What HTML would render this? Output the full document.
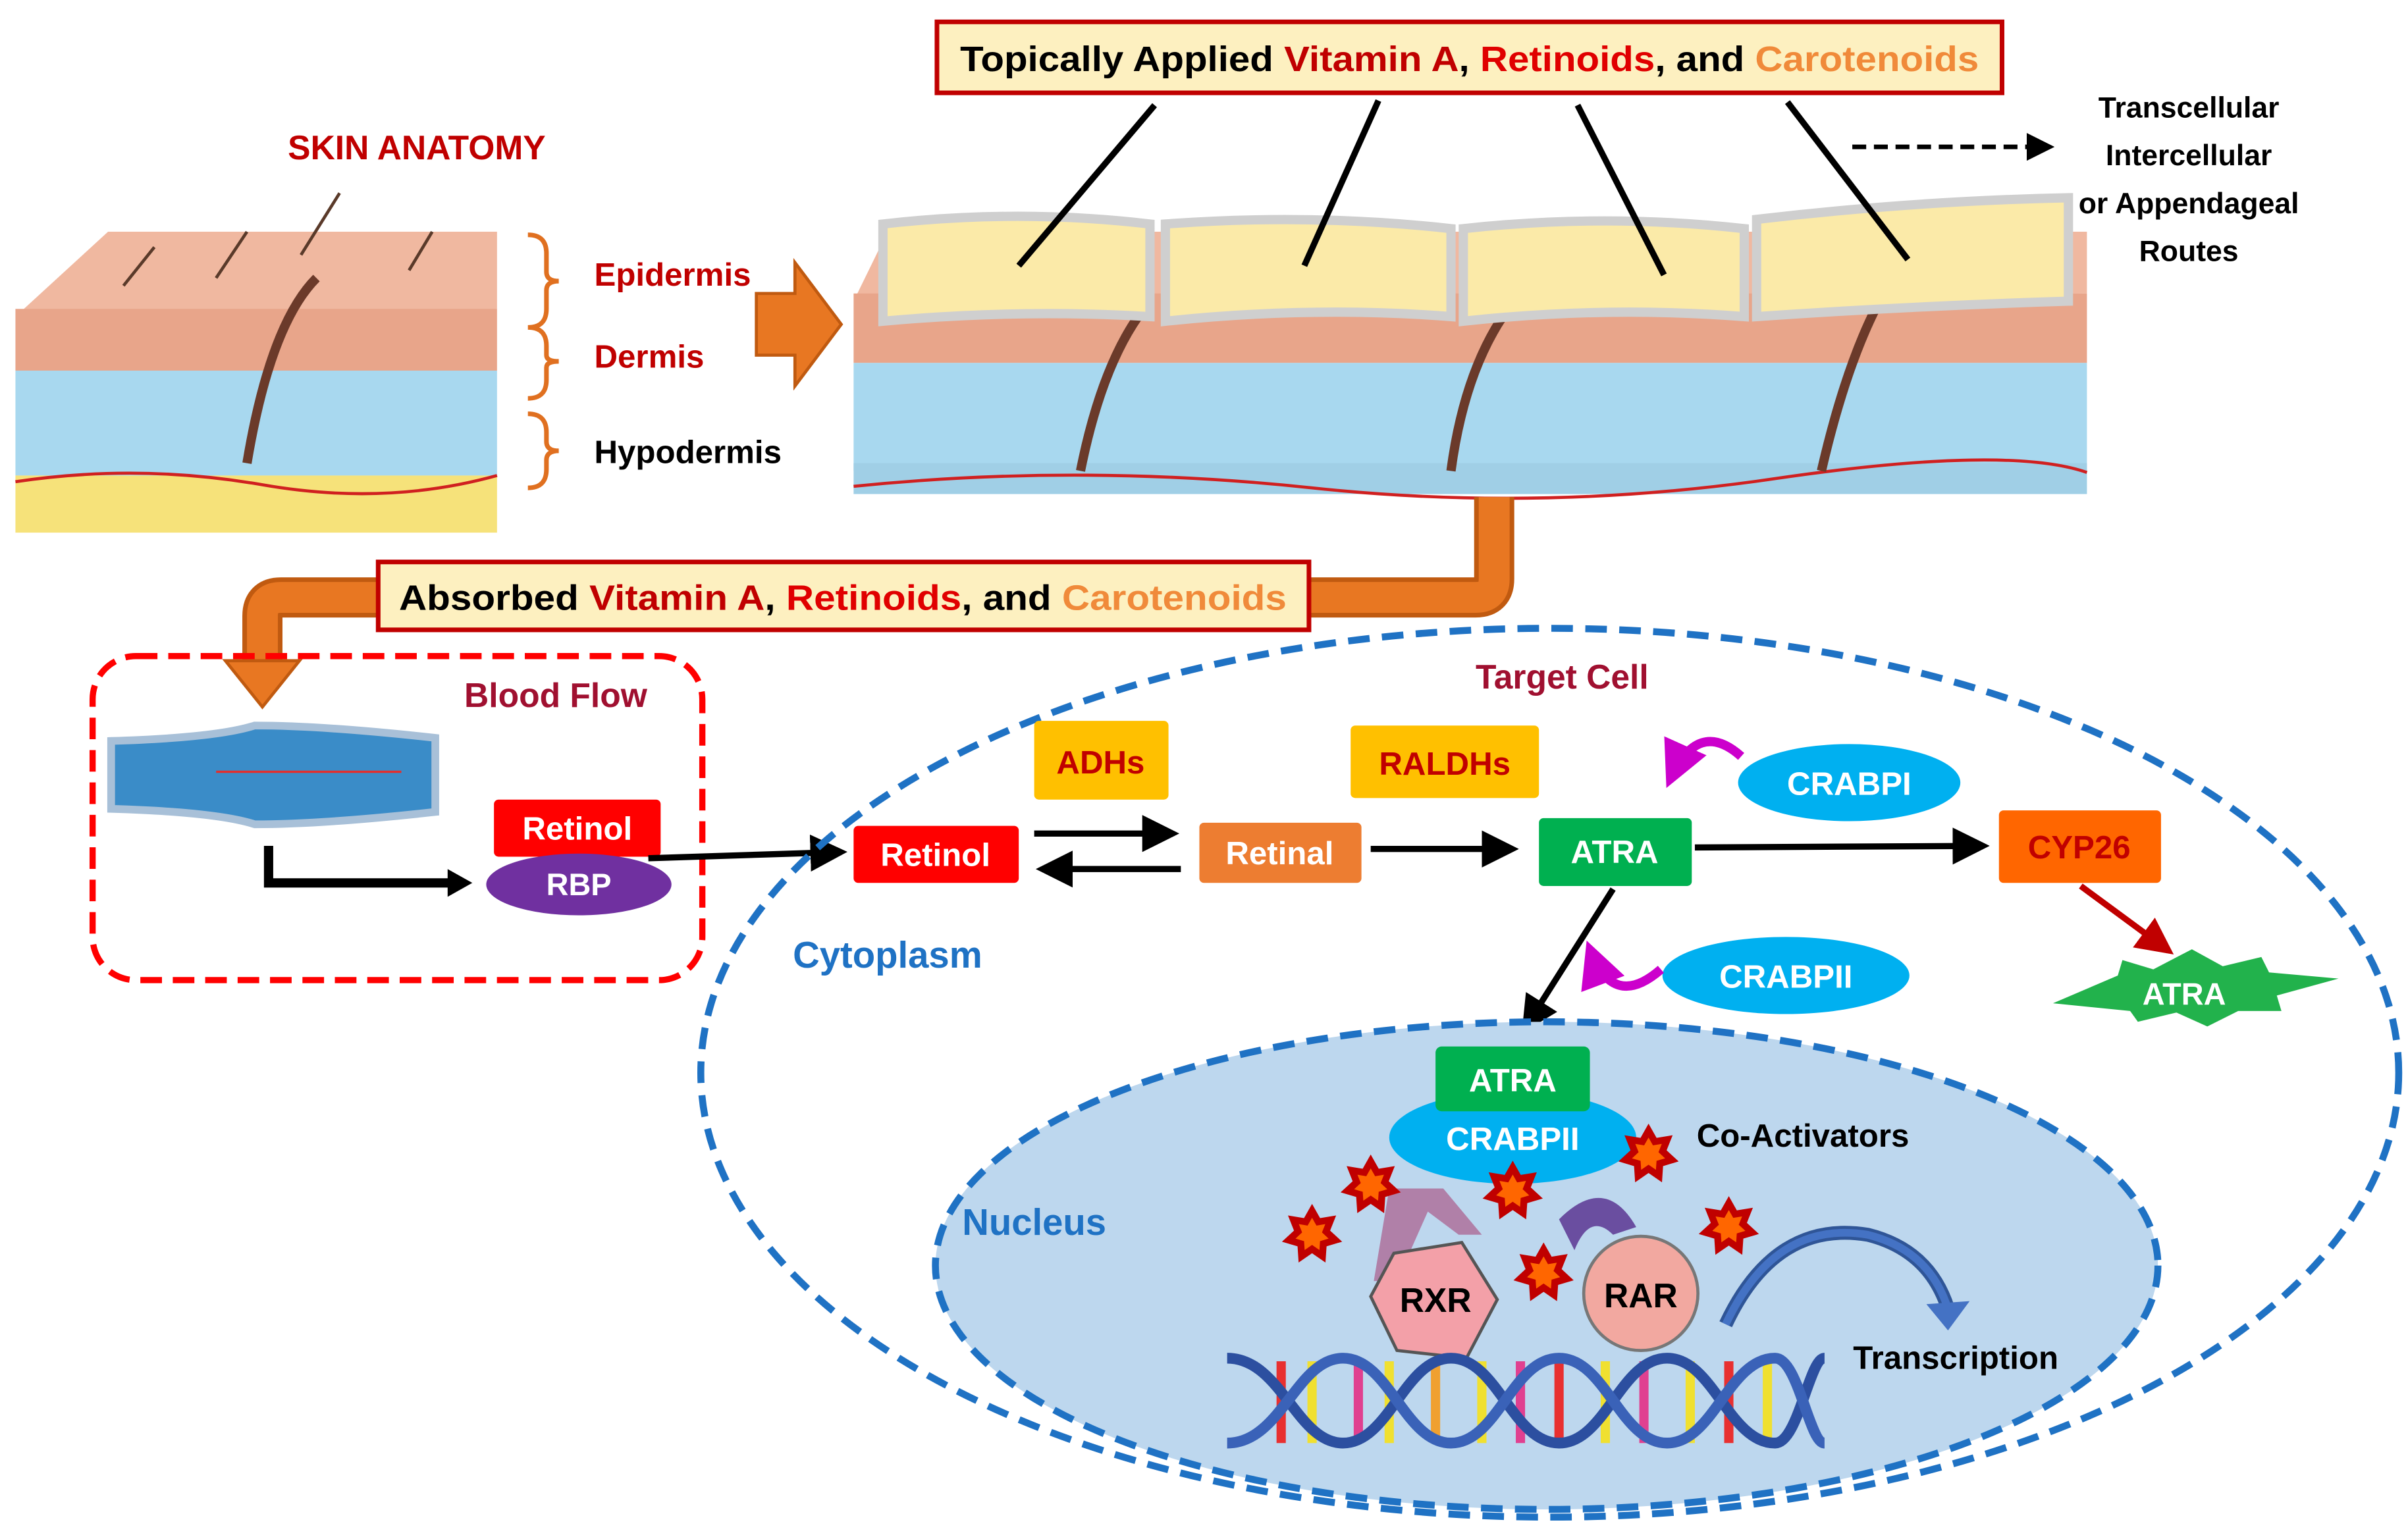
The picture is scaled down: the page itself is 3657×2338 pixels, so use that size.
<!DOCTYPE html>
<html><head><meta charset="utf-8"><style>
html,body{margin:0;padding:0;background:#fff}
svg{display:block}
text{font-family:"Liberation Sans",sans-serif;font-weight:bold}
</style></head><body>
<svg width="3657" height="2338" viewBox="0 0 1560 997" xmlns="http://www.w3.org/2000/svg">
<defs>
<marker id="ah" markerWidth="6" markerHeight="6" refX="5" refY="3" orient="auto" markerUnits="strokeWidth"><path d="M0,0 L6,3 L0,6 Z" fill="#000"/></marker>
<marker id="ahr" markerWidth="6" markerHeight="6" refX="5" refY="3" orient="auto" markerUnits="strokeWidth"><path d="M0,0 L6,3 L0,6 Z" fill="#c00000"/></marker>
<marker id="ahm" markerWidth="5" markerHeight="5" refX="4" refY="2.5" orient="auto" markerUnits="strokeWidth"><path d="M0,0 L5,2.5 L0,5 Z" fill="#cc00cc"/></marker>
<g id="star"><polygon fill="#c00000" points="0,-20 5.2,-10.8 15.6,-12.5 11.7,-2.7 19.5,4.5 9.4,7.5 8.7,18 0,12 -8.7,18 -9.4,7.5 -19.5,4.5 -11.7,-2.7 -15.6,-12.5 -5.2,-10.8"/><polygon fill="#ff6600" transform="scale(0.55)" points="0,-20 5.2,-10.8 15.6,-12.5 11.7,-2.7 19.5,4.5 9.4,7.5 8.7,18 0,12 -8.7,18 -9.4,7.5 -19.5,4.5 -11.7,-2.7 -15.6,-12.5 -5.2,-10.8"/></g>
</defs>

<!-- Title box -->
<rect x="607" y="14" width="690" height="46" fill="#fdf0c0" stroke="#c00000" stroke-width="3"/>
<text x="952" y="46" font-size="23" text-anchor="middle" fill="#000" textLength="660" lengthAdjust="spacingAndGlyphs">Topically Applied <tspan fill="#c00000">Vitamin A</tspan>, <tspan fill="#e00000">Retinoids</tspan>, and <tspan fill="#f08a3a">Carotenoids</tspan></text>

<text x="270" y="103" font-size="22" text-anchor="middle" fill="#c00000">SKIN ANATOMY</text>

<!-- Left skin block -->
<polygon points="10,205 70,150 322,150 322,200 262,205" fill="#f0b8a0"/>
<rect x="10" y="200" width="312" height="40" fill="#e8a58a"/>
<rect x="10" y="240" width="312" height="68" fill="#a8d8ef"/>
<rect x="10" y="308" width="312" height="37" fill="#f6e27a"/>
<path d="M10,312 Q90,300 170,314 T322,308" stroke="#d02020" stroke-width="2" fill="none"/>
<path d="M160,300 Q175,210 205,180" stroke="#6b3a2a" stroke-width="6" fill="none"/>
<path d="M100,160 l-20,25 M160,150 l-20,30 M220,125 l-25,40 M280,150 l-15,25" stroke="#5a3a2a" stroke-width="2"/>
<!-- braces -->
<path d="M342,152 q12,0 12,12 v12 q0,6 8,6 q-8,0 -8,6 v12 q0,12 -12,12 M342,212 q12,0 12,12 v6 q0,4 8,4 q-8,0 -8,4 v8 q0,12 -12,12 M342,268 q12,0 12,12 v6 q0,6 8,6 q-8,0 -8,6 v6 q0,12 -12,12" stroke="#e07020" stroke-width="3" fill="none"/>
<text x="385" y="185" font-size="21" fill="#c00000">Epidermis</text>
<text x="385" y="238" font-size="21" fill="#c00000">Dermis</text>
<text x="385" y="300" font-size="21" fill="#000">Hypodermis</text>

<!-- orange arrow -->
<polygon points="490,190 515,190 515,170 545,210 515,250 515,230 490,230" fill="#e87722" stroke="#c05a10" stroke-width="2"/>

<!-- Right skin strip -->
<polygon points="553,195 575,150 1352,150 1352,190" fill="#f0b8a0"/>
<rect x="553" y="190" width="799" height="45" fill="#e8a58a"/>
<rect x="553" y="235" width="799" height="70" fill="#a8d8ef"/>
<rect x="553" y="300" width="799" height="20" fill="#a0cfe6"/>
<path d="M553,315 Q700,300 850,316 T1150,310 T1352,306" stroke="#d02020" stroke-width="2" fill="none"/>
<path d="M700,305 Q715,230 745,195 M940,305 Q950,230 985,190 M1180,305 Q1195,240 1215,200" stroke="#6b3a2a" stroke-width="6" fill="none"/>
<g fill="#fbeaa8" stroke="#cfcfcf" stroke-width="6">
<path d="M572,145 Q660,135 745,145 L745,205 Q660,200 572,208 Z"/>
<path d="M755,145 Q850,138 940,148 L940,205 Q850,198 755,208 Z"/>
<path d="M948,148 Q1040,138 1130,148 L1130,205 Q1040,198 948,208 Z"/>
<path d="M1138,142 Q1240,130 1340,128 L1340,195 Q1240,198 1138,205 Z"/>
</g>
<g stroke="#000" stroke-width="4">
<line x1="748" y1="68" x2="660" y2="172"/>
<line x1="893" y1="65" x2="845" y2="172"/>
<line x1="1022" y1="68" x2="1078" y2="178"/>
<line x1="1158" y1="66" x2="1236" y2="168"/>
</g>
<line x1="1200" y1="95" x2="1328" y2="95" stroke="#000" stroke-width="3" stroke-dasharray="9,5" marker-end="url(#ah)"/>
<g font-size="19" text-anchor="middle" fill="#000">
<text x="1418" y="76">Transcellular</text>
<text x="1418" y="107">Intercellular</text>
<text x="1418" y="138">or Appendageal</text>
<text x="1418" y="169">Routes</text>
</g>

<!-- orange pipe -->
<path d="M968,322 V375 Q968,387 956,387 H182 Q170,387 170,399 V430" stroke="#c05a10" stroke-width="26" fill="none"/>
<path d="M968,322 V375 Q968,387 956,387 H182 Q170,387 170,399 V430" stroke="#e87722" stroke-width="20" fill="none"/>
<polygon points="146,428 194,428 170,458" fill="#e87722" stroke="#c05a10" stroke-width="2"/>
<rect x="245" y="364" width="603" height="44" fill="#fdf0c0" stroke="#c00000" stroke-width="3"/>
<text x="546" y="395" font-size="23" text-anchor="middle" fill="#000" textLength="575" lengthAdjust="spacingAndGlyphs">Absorbed <tspan fill="#c00000">Vitamin A</tspan>, <tspan fill="#e00000">Retinoids</tspan>, and <tspan fill="#f08a3a">Carotenoids</tspan></text>

<!-- Blood flow -->
<rect x="60" y="425" width="395" height="210" rx="28" fill="none" stroke="#ff0000" stroke-width="4" stroke-dasharray="14,7"/>
<text x="360" y="458" font-size="22" text-anchor="middle" fill="#a01030">Blood Flow</text>
<path d="M72,480 Q140,478 165,470 Q210,470 282,478 V526 Q210,534 165,534 Q140,526 72,524 Z" fill="#3a8cc8" stroke="#a8c0d8" stroke-width="5"/>
<path d="M140,500 H260" stroke="#e03030" stroke-width="1.5"/>
<path d="M174,548 V572 H292" stroke="#000" stroke-width="6" fill="none"/>
<polygon points="290,563 306,572 290,581" fill="#000"/>
<rect x="320" y="518" width="108" height="37" rx="3" fill="#ff0000"/>
<text x="374" y="544" font-size="21" text-anchor="middle" fill="#fff">Retinol</text>
<ellipse cx="375" cy="573" rx="60" ry="20" fill="#7030a0"/>
<text x="375" y="580" font-size="20" text-anchor="middle" fill="#fff">RBP</text>
<line x1="420" y1="556" x2="545" y2="552" stroke="#000" stroke-width="4" marker-end="url(#ah)"/>

<!-- Target cell -->
<ellipse cx="1004" cy="695" rx="550" ry="288" fill="none" stroke="#1f72c4" stroke-width="4.5" stroke-dasharray="14,8"/>
<text x="1012" y="446" font-size="22" text-anchor="middle" fill="#a01030">Target Cell</text>
<rect x="670" y="467" width="87" height="51" rx="3" fill="#ffc000"/>
<text x="713" y="501" font-size="21" text-anchor="middle" fill="#c00000">ADHs</text>
<rect x="875" y="470" width="122" height="47" rx="3" fill="#ffc000"/>
<text x="936" y="502" font-size="21" text-anchor="middle" fill="#c00000">RALDHs</text>
<rect x="553" y="535" width="107" height="37" rx="3" fill="#ff0000"/>
<text x="606" y="561" font-size="21" text-anchor="middle" fill="#fff">Retinol</text>
<rect x="777" y="533" width="105" height="39" rx="3" fill="#ed7d31"/>
<text x="829" y="560" font-size="21" text-anchor="middle" fill="#fff">Retinal</text>
<rect x="997" y="530" width="99" height="44" rx="3" fill="#00b050"/>
<text x="1046" y="559" font-size="21" text-anchor="middle" fill="#fff">ATRA</text>
<rect x="1295" y="525" width="105" height="47" rx="3" fill="#ff6600"/>
<text x="1347" y="556" font-size="21" text-anchor="middle" fill="#c00000">CYP26</text>
<g stroke="#000" stroke-width="4">
<line x1="670" y1="540" x2="760" y2="540" marker-end="url(#ah)"/>
<line x1="765" y1="563" x2="675" y2="563" marker-end="url(#ah)"/>
<line x1="888" y1="550" x2="980" y2="550" marker-end="url(#ah)"/>
<line x1="1098" y1="549" x2="1285" y2="548" marker-end="url(#ah)"/>
<line x1="1045" y1="576" x2="988" y2="666" marker-end="url(#ah)"/>
</g>
<line x1="1348" y1="574" x2="1405" y2="616" stroke="#c00000" stroke-width="4" marker-end="url(#ahr)"/>
<ellipse cx="1198" cy="507" rx="72" ry="25" fill="#00b0f0"/>
<text x="1198" y="515" font-size="21" text-anchor="middle" fill="#fff">CRABPI</text>
<path d="M1128,490 Q1100,465 1082,505" stroke="#cc00cc" stroke-width="6" fill="none" marker-end="url(#ahm)"/>
<ellipse cx="1157" cy="632" rx="80" ry="25" fill="#00b0f0"/>
<text x="1157" y="640" font-size="21" text-anchor="middle" fill="#fff">CRABPII</text>
<path d="M1076,628 Q1045,655 1030,615" stroke="#cc00cc" stroke-width="6" fill="none" marker-end="url(#ahm)"/>
<polygon points="1330,650 1372,632 1375,622 1395,628 1420,615 1440,626 1465,620 1470,630 1515,634 1475,645 1478,655 1450,655 1430,665 1410,656 1385,662 1380,655" fill="#22b24c"/>
<text x="1415" y="651" font-size="20" text-anchor="middle" fill="#fff">ATRA</text>
<text x="575" y="627" font-size="24" text-anchor="middle" fill="#1f72c4">Cytoplasm</text>

<!-- Nucleus -->
<ellipse cx="1002" cy="820" rx="396" ry="158" fill="#bdd7ee" stroke="#1f72c4" stroke-width="4.5" stroke-dasharray="14,8"/>
<text x="670" y="800" font-size="24" text-anchor="middle" fill="#1f72c4">Nucleus</text>
<path d="M900,770 L935,770 L960,800 L945,800 L925,785 L905,830 L890,830 Z" fill="#b080a8"/>
<path d="M1010,790 Q1040,760 1060,795 L1045,800 Q1030,785 1020,810 Z" fill="#6a4ea0"/>
<ellipse cx="980" cy="737" rx="80" ry="30" fill="#00b0f0"/>
<rect x="930" y="678" width="100" height="42" rx="4" fill="#00b050"/>
<text x="980" y="707" font-size="21" text-anchor="middle" fill="#fff">ATRA</text>
<text x="980" y="745" font-size="21" text-anchor="middle" fill="#fff">CRABPII</text>
<text x="1168" y="743" font-size="21" text-anchor="middle" fill="#000">Co-Activators</text>
<polygon points="903,812 947,805 970,842 950,880 905,875 888,840" fill="#f3a0a8" stroke="#555" stroke-width="2"/>
<text x="930" y="850" font-size="22" text-anchor="middle" fill="#000">RXR</text>
<circle cx="1063" cy="838" r="37" fill="#f2a8a0" stroke="#777" stroke-width="2"/>
<text x="1063" y="847" font-size="22" text-anchor="middle" fill="#000">RAR</text>
<use href="#star" x="850" y="800"/>
<use href="#star" x="888" y="768"/>
<use href="#star" x="980" y="772"/>
<use href="#star" x="1068" y="748"/>
<use href="#star" x="1000" y="825"/>
<use href="#star" x="1120" y="795"/>
<!-- DNA -->
<g stroke-width="6">
<line x1="830" y1="882" x2="830" y2="935" stroke="#e83030"/>
<line x1="850" y1="882" x2="850" y2="935" stroke="#f0e030"/>
<line x1="880" y1="882" x2="880" y2="935" stroke="#e04090"/>
<line x1="900" y1="882" x2="900" y2="935" stroke="#f0e030"/>
<line x1="930" y1="882" x2="930" y2="935" stroke="#f0a030"/>
<line x1="960" y1="882" x2="960" y2="935" stroke="#f0e030"/>
<line x1="985" y1="882" x2="985" y2="935" stroke="#e04090"/>
<line x1="1010" y1="882" x2="1010" y2="935" stroke="#e83030"/>
<line x1="1040" y1="882" x2="1040" y2="935" stroke="#f0e030"/>
<line x1="1065" y1="882" x2="1065" y2="935" stroke="#e04090"/>
<line x1="1095" y1="882" x2="1095" y2="935" stroke="#f0e030"/>
<line x1="1120" y1="882" x2="1120" y2="935" stroke="#e83030"/>
<line x1="1145" y1="882" x2="1145" y2="935" stroke="#f0e030"/>
</g>
<path d="M795,880 C830,880 840,935 870,935 C900,935 910,880 940,880 C970,880 980,935 1010,935 C1040,935 1050,880 1080,880 C1110,880 1120,935 1150,935 C1165,935 1172,880 1182,880" stroke="#2c4fa0" stroke-width="7" fill="none"/>
<path d="M795,935 C830,935 840,880 870,880 C900,880 910,935 940,935 C970,935 980,880 1010,880 C1040,880 1050,935 1080,935 C1110,935 1120,880 1150,880 C1165,880 1172,935 1182,935" stroke="#3a62b8" stroke-width="7" fill="none"/>
<path d="M1118,858 Q1150,790 1210,800 Q1250,810 1262,848" stroke="#2f5597" stroke-width="9" fill="none"/>
<path d="M1118,858 Q1150,790 1210,800 Q1250,810 1262,848" stroke="#4472c4" stroke-width="5" fill="none"/>
<polygon points="1248,845 1276,843 1262,862" fill="#4472c4"/>
<text x="1267" y="887" font-size="21" text-anchor="middle" fill="#000">Transcription</text>
</svg>
</body></html>
